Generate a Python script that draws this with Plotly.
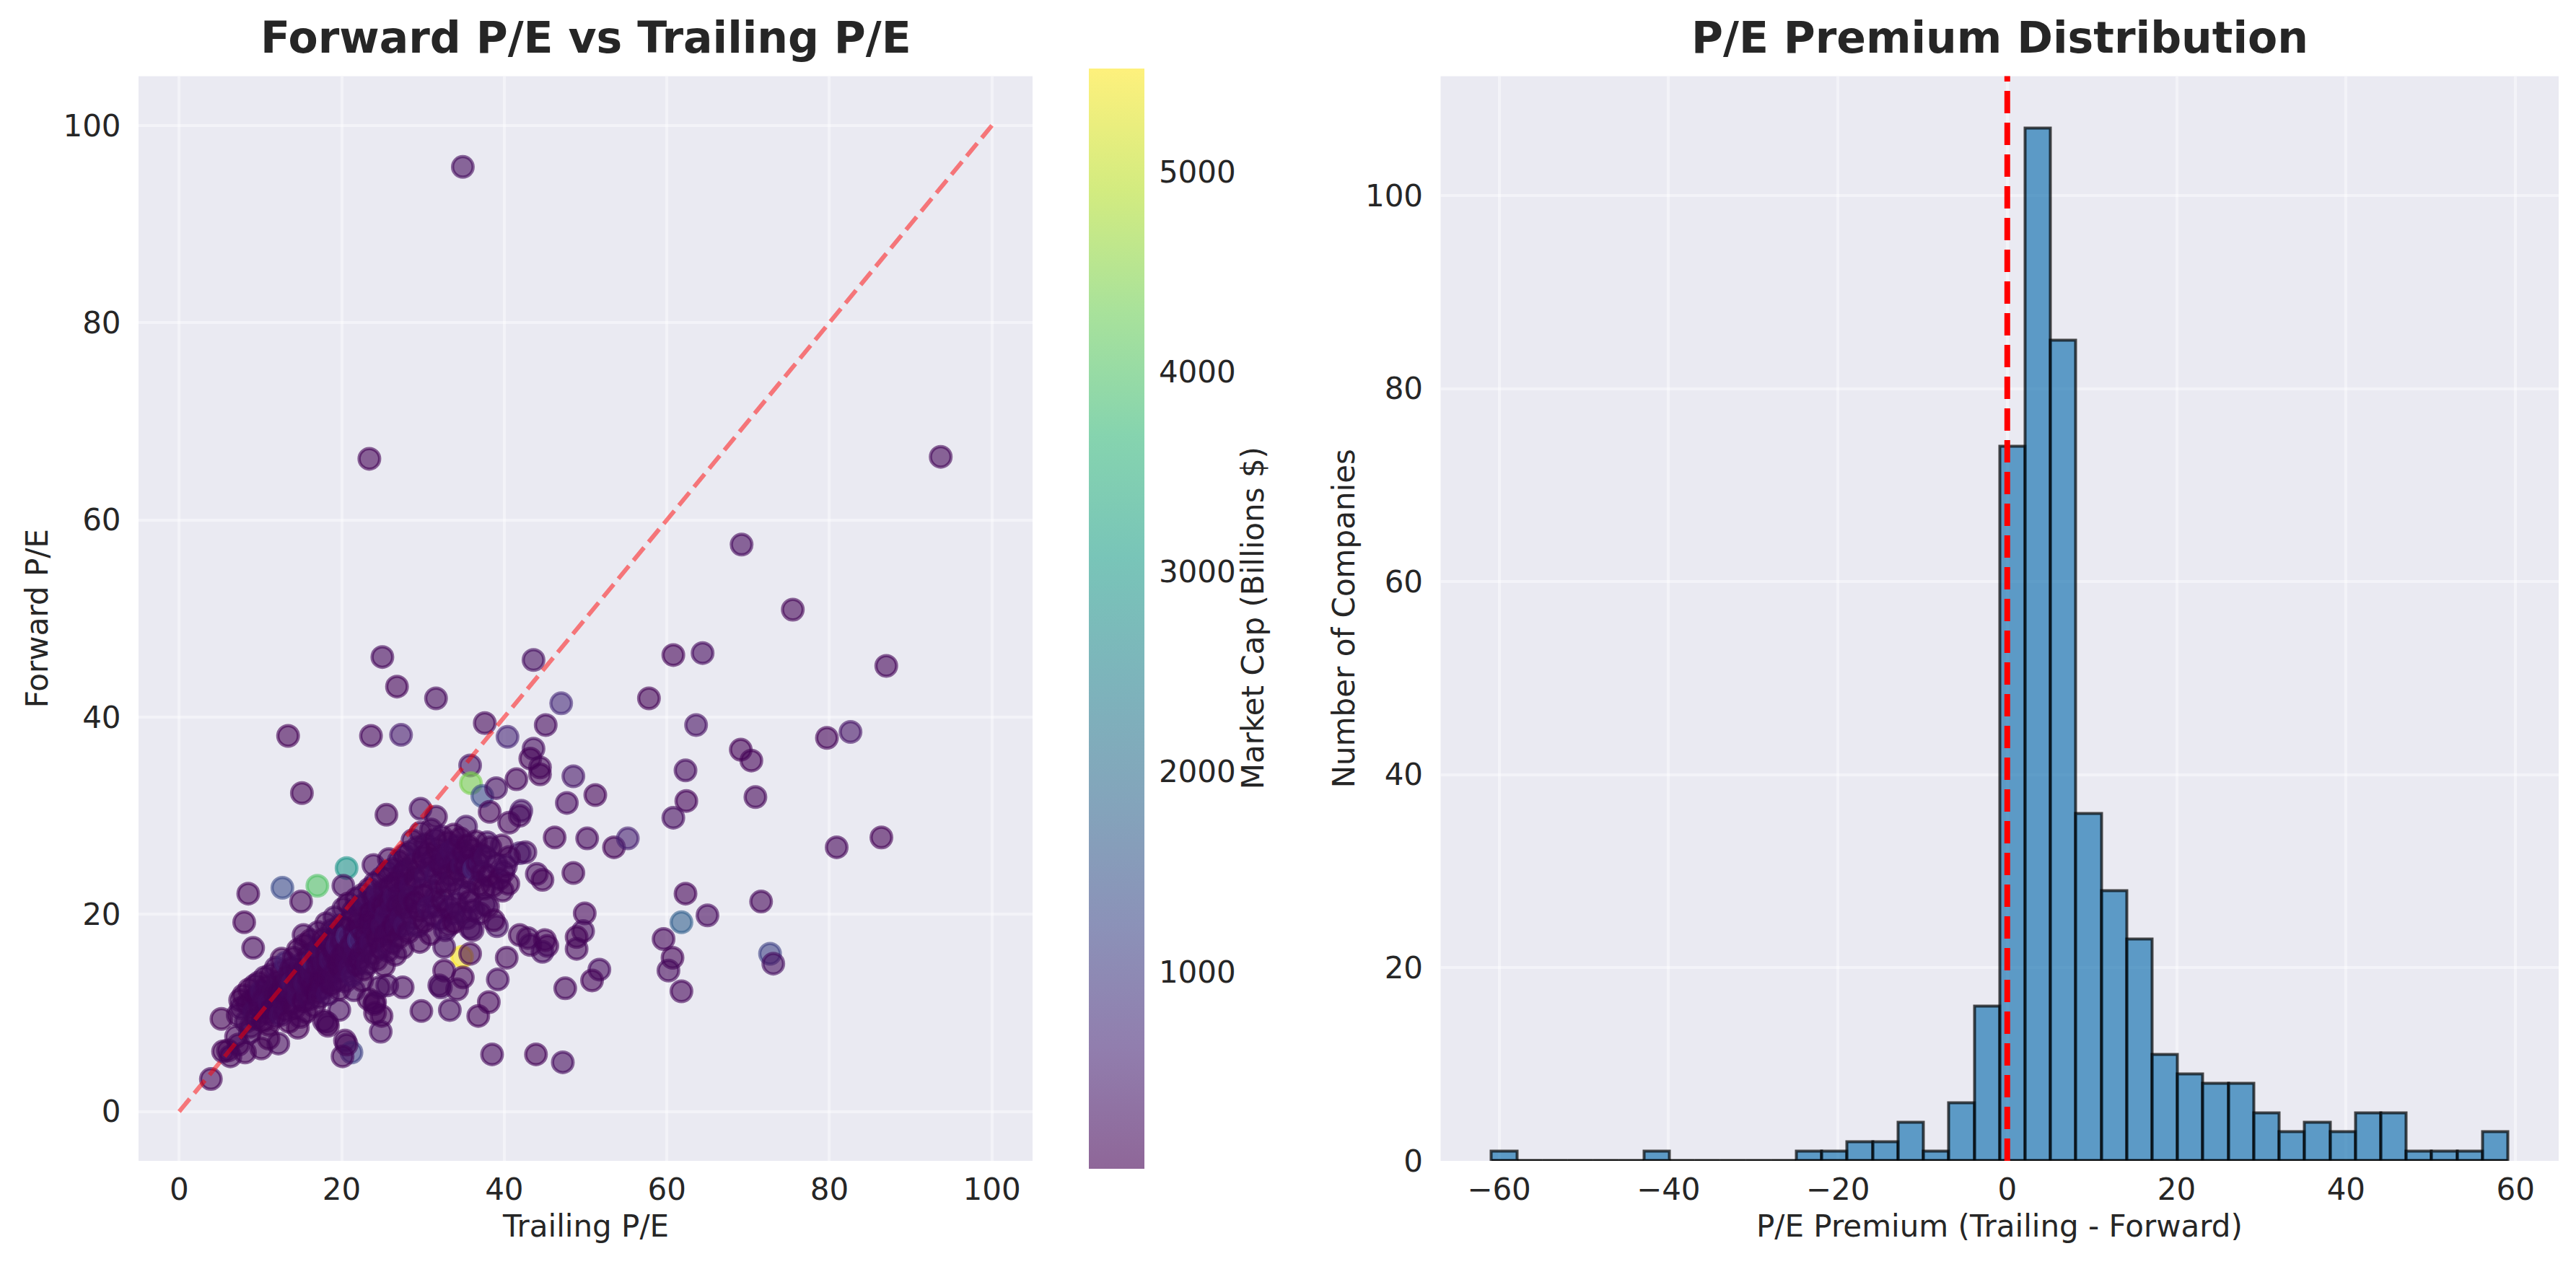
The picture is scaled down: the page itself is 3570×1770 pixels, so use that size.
import plotly.graph_objects as go

# ---- scatter data: (trailing P/E, forward P/E, market cap $B) ----
outlier_points = [
    (34.9, 95.8, 180), (23.4, 66.2, 60), (93.7, 66.4, 90), (69.2, 57.5, 140), (75.5, 50.9, 70),
    (25.0, 46.1, 110), (43.6, 45.8, 200), (60.8, 46.3, 45), (64.4, 46.5, 160), (87.0, 45.2, 85),
    (26.8, 43.1, 55), (31.6, 41.9, 120), (47.0, 41.4, 700), (57.8, 41.9, 40), (13.4, 38.1, 35),
    (23.6, 38.1, 75), (27.3, 38.2, 420), (37.6, 39.4, 95), (40.4, 38.0, 600), (45.1, 39.2, 130),
    (63.6, 39.2, 260), (79.7, 37.9, 50), (82.6, 38.5, 310), (43.6, 36.8, 180), (43.2, 35.8, 65),
    (44.4, 34.9, 90), (35.8, 35.1, 240), (69.1, 36.7, 30), (70.4, 35.6, 55), (62.3, 34.6, 150),
    (15.1, 32.3, 40), (35.9, 33.3, 4400), (37.3, 32.0, 1300), (39.0, 32.8, 210), (41.5, 33.7, 85),
    (48.5, 34.0, 330), (51.2, 32.1, 60), (70.9, 31.9, 100), (62.4, 31.5, 45), (47.7, 31.3, 140),
    (25.5, 30.1, 70), (29.7, 30.7, 160), (31.6, 29.9, 95), (38.2, 30.4, 50), (42.1, 30.5, 280),
    (41.9, 30.0, 120), (40.6, 29.3, 75), (60.8, 29.8, 190), (35.3, 28.9, 230), (46.2, 27.8, 60),
    (50.2, 27.7, 110), (53.5, 26.8, 40), (55.2, 27.7, 520), (80.9, 26.8, 80), (86.4, 27.8, 35),
    (20.6, 24.7, 2900), (17.0, 22.9, 4000), (12.7, 22.7, 1300), (8.5, 22.1, 50), (20.2, 22.9, 170),
    (15.0, 21.3, 90), (23.9, 25.0, 140), (27.7, 24.3, 260), (48.5, 24.2, 70), (44.0, 24.1, 115),
    (44.7, 23.5, 45), (41.9, 26.2, 380), (39.9, 24.3, 160), (62.3, 22.1, 55), (71.6, 21.3, 95),
    (65.0, 19.9, 130), (49.9, 20.1, 65), (61.8, 19.2, 1700), (8.0, 19.2, 30), (9.1, 16.6, 75),
    (59.6, 17.5, 85), (49.7, 18.3, 150), (48.9, 17.7, 40), (48.9, 16.5, 95), (45.3, 16.8, 60),
    (44.7, 16.2, 180), (42.9, 17.6, 110), (41.9, 17.9, 70), (39.1, 18.8, 250), (36.1, 18.4, 135),
    (34.8, 15.7, 5517), (40.3, 15.6, 90), (72.7, 16.0, 1100), (73.1, 15.0, 200), (60.7, 15.6, 55),
    (60.2, 14.3, 120), (61.8, 12.2, 75), (51.7, 14.4, 160), (50.8, 13.3, 45), (47.5, 12.5, 90),
    (39.2, 13.4, 140), (34.9, 13.6, 60), (32.2, 12.6, 210), (34.2, 12.4, 85), (38.1, 11.1, 50),
    (27.5, 12.6, 115), (24.1, 11.1, 70), (24.1, 10.0, 40), (29.8, 10.2, 95), (33.3, 10.3, 150),
    (36.8, 9.7, 65), (24.8, 8.1, 130), (20.4, 7.2, 55), (21.2, 6.0, 1100), (20.1, 5.6, 80),
    (38.5, 5.8, 110), (43.9, 5.8, 45), (47.2, 5.0, 170), (5.2, 9.4, 15), (3.9, 3.3, 60),
    (6.0, 6.2, 35), (7.3, 6.8, 90), (10.1, 6.4, 50), (18.2, 9.0, 75), (27.8, 21.5, 3300),
    (31.5, 21.7, 1200), (35.8, 18.6, 140), (37.6, 21.0, 260), (35.8, 16.0, 70), (32.6, 14.3, 45),
    (32.0, 12.8, 120), (29.6, 17.2, 85), (32.6, 16.7, 190), (33.2, 18.9, 60), (33.8, 20.1, 310),
    (43.2, 16.9, 95), (44.4, 34.2, 55), (42.6, 26.3, 150), (40.6, 25.8, 80), (39.7, 27.0, 45),
    (37.9, 27.3, 220), (45.0, 17.4, 65), (15.3, 17.9, 110), (12.6, 15.5, 40), (7.5, 11.3, 70),
    (5.4, 6.1, 30), (20.6, 6.8, 95), (24.0, 10.9, 60), (19.7, 10.3, 140), (18.3, 8.7, 50),
    (17.8, 9.2, 85), (14.6, 8.5, 35), (12.2, 6.9, 120), (8.1, 6.0, 45), (6.3, 5.6, 75),
    (7.0, 7.6, 55), (8.7, 8.0, 100), (11.0, 7.4, 40), (21.5, 12.3, 160), (22.5, 13.3, 70),
    (23.3, 11.4, 45), (24.6, 12.6, 90), (25.6, 12.8, 130), (24.9, 9.7, 60), (26.1, 19.8, 210),
    (25.8, 25.6, 85),
]

band_points = [
    (7.2, 9.8, 45), (7.6, 10.5, 80), (7.9, 11.8, 30), (8.2, 9.1, 120), (8.4, 10.9, 60), (8.6, 12.4, 25),
    (8.8, 8.6, 95), (9.0, 11.3, 40), (9.2, 10.1, 150), (9.3, 12.8, 55), (9.5, 9.4, 70), (9.6, 11.7, 35),
    (9.8, 13.1, 90), (10.0, 10.6, 45), (10.1, 12.2, 210), (10.3, 9.2, 30), (10.4, 11.4, 75), (10.5, 13.6, 120),
    (10.7, 10.0, 50), (10.8, 12.7, 85), (11.0, 8.8, 40), (11.1, 11.1, 160), (11.3, 13.9, 65), (11.4, 10.4, 35),
    (11.6, 12.3, 100), (11.7, 9.6, 55), (11.9, 14.6, 140), (11.9, 11.8, 70),
    (12.1, 10.9, 45), (12.2, 13.2, 90), (12.4, 12.0, 30), (12.5, 9.8, 180), (12.6, 14.2, 60), (12.8, 11.4, 110),
    (12.9, 12.9, 40), (13.0, 10.3, 75), (13.1, 15.1, 520), (13.3, 11.9, 55), (13.4, 13.7, 95), (13.5, 9.1, 35),
    (13.6, 12.5, 130), (13.8, 14.5, 65), (13.9, 11.0, 45), (14.0, 13.1, 250),
    (14.1, 15.6, 80), (14.2, 10.5, 40), (14.3, 12.2, 115), (14.5, 14.0, 55), (14.6, 16.4, 30), (14.7, 11.6, 170),
    (14.8, 13.4, 70), (14.9, 9.6, 45), (15.0, 12.8, 95), (15.1, 15.0, 140), (15.2, 14.1, 60), (15.3, 11.2, 35),
    (15.4, 16.9, 85), (15.5, 13.0, 200), (15.6, 10.1, 50), (15.7, 14.6, 75), (15.8, 12.0, 120), (15.9, 15.8, 40),
    (16.0, 13.5, 65), (16.1, 11.4, 90), (16.2, 17.4, 35), (16.3, 14.2, 150), (16.4, 12.6, 55), (16.5, 15.3, 500),
    (16.6, 10.7, 45), (16.7, 16.1, 80), (16.8, 13.8, 110), (16.9, 12.1, 30), (17.0, 14.7, 70), (17.1, 18.2, 130),
    (17.2, 15.6, 50), (17.3, 11.6, 95), (17.4, 13.2, 40), (17.5, 16.7, 180), (17.6, 14.0, 60), (17.7, 12.5, 85),
    (17.8, 17.5, 35), (17.9, 15.1, 120),
    (18.0, 13.6, 55), (18.1, 19.1, 90), (18.2, 16.0, 40), (18.3, 11.9, 160), (18.4, 14.6, 70), (18.5, 17.2, 45),
    (18.6, 15.4, 230), (18.7, 12.9, 60), (18.8, 18.4, 100), (18.9, 16.5, 35), (19.0, 14.0, 80), (19.1, 19.7, 140),
    (19.2, 15.9, 50), (19.3, 13.3, 95), (19.4, 17.8, 65), (19.5, 16.8, 300), (19.6, 14.9, 40), (19.7, 12.4, 75),
    (19.8, 18.9, 120), (19.9, 15.6, 55),
    (20.0, 17.3, 85), (20.1, 14.3, 45), (20.2, 20.6, 170), (20.3, 16.1, 60), (20.4, 13.2, 110), (20.5, 18.6, 35),
    (20.6, 15.1, 75), (20.7, 17.8, 640), (20.8, 21.1, 50), (20.9, 16.5, 95), (21.0, 14.6, 140), (21.1, 19.4, 40),
    (21.2, 17.0, 70), (21.3, 13.8, 200), (21.4, 20.3, 55), (21.5, 15.8, 90), (21.6, 18.2, 45), (21.7, 16.7, 130),
    (21.8, 21.6, 65), (21.9, 14.9, 85),
    (22.0, 19.0, 35), (22.1, 17.4, 720), (22.2, 15.5, 60), (22.3, 20.8, 110), (22.4, 18.5, 45), (22.5, 16.2, 80),
    (22.6, 22.0, 150), (22.7, 14.4, 55), (22.8, 19.7, 95), (22.9, 17.8, 40), (23.0, 21.2, 190), (23.1, 16.8, 70),
    (23.2, 15.0, 120), (23.3, 18.9, 50), (23.4, 22.6, 85), (23.5, 20.1, 35), (23.6, 17.2, 160), (23.7, 19.4, 65),
    (23.8, 16.0, 100), (23.9, 21.7, 45),
    (24.0, 18.4, 75), (24.1, 23.2, 130), (24.2, 20.5, 55), (24.3, 15.4, 90), (24.4, 17.6, 40), (24.5, 22.1, 260),
    (24.6, 19.2, 65), (24.7, 21.0, 110), (24.8, 16.6, 45), (24.9, 23.7, 80), (25.0, 18.8, 150), (25.1, 20.9, 35),
    (25.2, 14.8, 70), (25.3, 22.5, 95), (25.4, 17.9, 55), (25.5, 19.9, 180), (25.6, 24.3, 60), (25.7, 16.3, 120),
    (25.8, 21.4, 40), (25.9, 18.3, 85),
    (26.0, 22.8, 65), (26.1, 20.4, 140), (26.2, 17.1, 50), (26.3, 24.6, 90), (26.4, 19.0, 35), (26.5, 21.8, 210),
    (26.6, 15.9, 75), (26.7, 23.3, 45), (26.8, 18.6, 110), (26.9, 20.9, 60), (27.0, 25.4, 160), (27.1, 17.7, 40),
    (27.2, 22.2, 85), (27.3, 19.6, 130), (27.4, 24.0, 55), (27.5, 16.6, 95), (27.6, 21.0, 70), (27.7, 26.0, 45),
    (27.8, 18.9, 240), (27.9, 23.1, 60),
]

cluster_points = [
    (28.1, 24.6, 80), (28.3, 26.3, 45), (28.5, 22.9, 130), (28.7, 27.5, 60), (28.9, 25.2, 95), (29.1, 23.7, 40),
    (29.3, 26.8, 170), (29.5, 24.4, 70), (29.7, 28.3, 55), (29.9, 22.6, 110), (30.1, 25.8, 35), (30.3, 27.1, 90),
    (30.4, 23.9, 150), (30.6, 26.2, 50), (30.8, 24.8, 75), (31.0, 28.6, 120), (31.1, 22.4, 45), (31.3, 25.5, 85),
    (31.5, 27.6, 60), (31.6, 24.1, 200), (31.8, 26.6, 40), (32.0, 23.2, 95), (32.1, 25.1, 65), (32.3, 27.9, 140),
    (32.5, 24.7, 55), (32.6, 26.0, 80), (32.8, 22.8, 35), (33.0, 25.7, 110), (33.1, 27.3, 70), (33.3, 24.0, 45),
    (33.5, 26.5, 160), (33.6, 23.4, 90), (33.8, 28.1, 50), (34.0, 25.3, 75), (34.1, 26.9, 130), (34.3, 24.5, 40),
    (34.5, 22.5, 85), (34.6, 27.7, 60), (34.8, 25.0, 190), (35.0, 26.3, 45), (35.1, 23.8, 100), (35.3, 24.9, 65),
    (35.5, 27.0, 35), (35.6, 22.2, 140), (35.8, 25.6, 80), (36.0, 26.6, 55), (36.1, 23.5, 95), (36.3, 24.6, 600),
    (36.5, 27.4, 70), (36.7, 25.2, 45), (36.9, 23.0, 120), (37.1, 26.1, 60), (37.3, 24.3, 85), (37.5, 22.6, 40),
    (37.7, 25.8, 150), (38.0, 23.9, 65), (38.3, 26.8, 90), (38.6, 22.9, 50), (39.0, 25.1, 110), (39.4, 23.6, 35),
    (39.8, 22.4, 75), (40.2, 24.9, 130), (40.5, 23.1, 55),
]

transition_points = [
    (28.0, 20.6, 70), (28.2, 18.2, 45), (28.4, 21.7, 120), (28.8, 19.6, 95), (29.0, 21.2, 35),
    (29.4, 18.8, 150), (29.6, 20.4, 50), (30.0, 21.9, 65), (30.2, 19.3, 40), (30.7, 20.7, 180),
    (30.9, 18.0, 55), (31.2, 19.9, 75), (31.7, 20.8, 130), (32.2, 19.5, 85), (32.4, 21.4, 40),
    (32.7, 18.4, 160), (33.2, 20.6, 50), (33.8, 19.2, 35), (34.1, 21.1, 140), (34.7, 20.2, 90),
    (35.4, 19.6, 120), (35.7, 21.3, 55), (36.2, 20.4, 80), (37.0, 20.1, 110), (38.0, 20.8, 95),
    (38.7, 19.4, 50),
]

# y = x reference line
diag_range = [0, 100]

# ---- histogram data: P/E premium (trailing - forward) ----
premium_bin_start = -60.9
premium_bin_width = 3.0
premium_counts = [1, 0, 0, 0, 0, 0, 1, 0, 0, 0, 0, 0, 1, 1, 2, 2, 4, 1, 6, 16,
                  74, 107, 85, 36, 28, 23, 11, 9, 8, 8, 5, 3, 4, 3, 5, 5, 1, 1, 1, 3]
premium_ref = 0

all_points = outlier_points + band_points + cluster_points + transition_points
trailing_pe = [p[0] for p in all_points]
forward_pe = [p[1] for p in all_points]
market_cap = [p[2] for p in all_points]

bin_centers = [premium_bin_start + premium_bin_width * (i + 0.5) for i in range(len(premium_counts))]
bin_end = premium_bin_start + premium_bin_width * len(premium_counts)

# viridis at alpha 0.6, like matplotlib alpha on a scatter
viridis = ['#440154', '#482878', '#3e4989', '#31688e', '#26828e',
           '#1f9e89', '#35b779', '#6ece58', '#b5de2b', '#fde725']


def rgba(hex_color, a):
    h = hex_color.lstrip('#')
    return 'rgba(%d,%d,%d,%.2f)' % (int(h[0:2], 16), int(h[2:4], 16), int(h[4:6], 16), a)


cscale = [[i / (len(viridis) - 1), rgba(c, 0.6)] for i, c in enumerate(viridis)]

W, H = 3570, 1770
TEXT = '#262626'
FONT = 'DejaVu Sans'
y_dom = [1 - 1624 / H, 1 - 99 / H]
x1_dom = [184 / W, 1423 / W]
x2_dom = [1988.5 / W, 3538 / W]

fig = go.Figure()

fig.add_trace(go.Scatter(
    x=trailing_pe, y=forward_pe, mode='markers', xaxis='x', yaxis='y',
    marker=dict(
        size=28.5, color=market_cap, colorscale=cscale,
        cmin=min(market_cap), cmax=max(market_cap),
        line=dict(color=market_cap, colorscale=cscale,
                  cmin=min(market_cap), cmax=max(market_cap), width=4.5),
        colorbar=dict(
            x=1501 / W, xanchor='left', xpad=0, ypad=0,
            y=sum(y_dom) / 2, yanchor='middle',
            len=1525, lenmode='pixels', thickness=77, thicknessmode='pixels',
            outlinewidth=0, tick0=0, dtick=1000,
            ticks='outside', ticklen=12, tickcolor='rgba(0,0,0,0)',
            tickfont=dict(family=FONT, size=42, color=TEXT),
        ),
    ),
    hovertemplate='Trailing %{x}<br>Forward %{y}<br>Cap %{marker.color}<extra></extra>',
))

fig.add_trace(go.Scatter(
    x=diag_range, y=diag_range, mode='lines', xaxis='x', yaxis='y',
    line=dict(color='rgba(255,0,0,0.5)', width=6, dash='23px,10px'),
    hoverinfo='skip',
))

# baseline drawn by the empty bins
fig.add_trace(go.Scatter(
    x=[premium_bin_start, bin_end], y=[0, 0], mode='lines', xaxis='x2', yaxis='y2',
    line=dict(color='rgba(0,0,0,0.7)', width=4), hoverinfo='skip',
))

fig.add_trace(go.Bar(
    x=bin_centers, y=premium_counts, width=premium_bin_width, xaxis='x2', yaxis='y2',
    marker=dict(color='rgba(31,119,180,0.7)', line=dict(color='rgba(0,0,0,0.7)', width=4)),
))

fig.add_shape(type='line', xref='x2', yref='y2 domain', x0=premium_ref, x1=premium_ref,
              y0=0, y1=1, line=dict(color='red', width=8, dash='31px,13px'), layer='above')

grid_common = dict(
    showgrid=True, gridcolor='rgba(255,255,255,0.45)', gridwidth=4,
    zeroline=False, showline=False, ticks='outside',
    tickcolor='rgba(0,0,0,0)', tickfont=dict(family=FONT, size=42, color=TEXT),
)
x_common = dict(ticklen=3, **grid_common)
y_common = dict(ticklen=15, **grid_common)

fig.update_layout(
    width=W, height=H, margin=dict(l=0, r=0, t=0, b=0),
    paper_bgcolor='white', plot_bgcolor='#EAEAF2',
    font=dict(family=FONT, color=TEXT),
    showlegend=False, bargap=0,
    xaxis=dict(domain=x1_dom, range=[-5, 105], tick0=0, dtick=20, anchor='y', **x_common),
    yaxis=dict(domain=y_dom, range=[-5, 105], tick0=0, dtick=20, anchor='x', **y_common),
    xaxis2=dict(domain=x2_dom, range=[-66.9, 65.1], tick0=0, dtick=20, anchor='y2', **x_common),
    yaxis2=dict(domain=y_dom, range=[0, 112.35], tick0=0, dtick=20, anchor='x2', **y_common),
)

title_font = dict(family=FONT, size=60, color=TEXT, weight='bold')
label_font = dict(family=FONT, size=42, color=TEXT)
ymid = sum(y_dom) / 2
labels = [
    ('Forward P/E vs Trailing P/E', sum(x1_dom) / 2, 1 - 45 / H, 0, title_font),
    ('P/E Premium Distribution', sum(x2_dom) / 2, 1 - 45 / H, 0, title_font),
    ('Trailing P/E', sum(x1_dom) / 2, 1 - 1716 / H, 0, label_font),
    ('Forward P/E', 43 / W, ymid, -90, label_font),
    ('Market Cap (Billions $)', 1728 / W, ymid, -90, label_font),
    ('Number of Companies', 1854 / W, ymid, -90, label_font),
    ('P/E Premium (Trailing - Forward)', sum(x2_dom) / 2, 1 - 1716 / H, 0, label_font),
]
for text, x, y, angle, f in labels:
    fig.add_annotation(text=text, x=x, y=y, xref='paper', yref='paper',
                       xanchor='center', yanchor='middle', showarrow=False,
                       textangle=angle, font=f)

fig.write_html('out.html')
